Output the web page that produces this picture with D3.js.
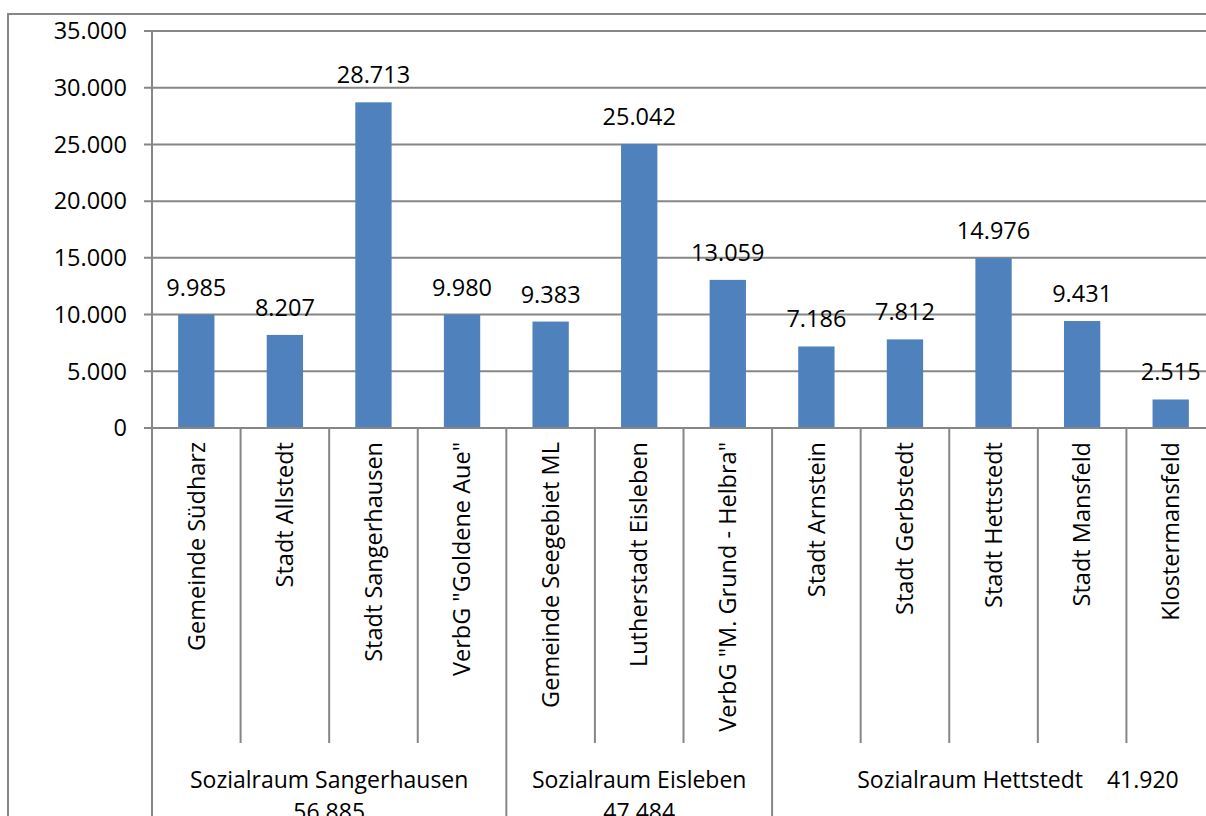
<!DOCTYPE html>
<html><head><meta charset="utf-8">
<script src="https://cdn.jsdelivr.net/npm/d3@7"></script>
<style>body{margin:0;background:#fff;}svg{display:block;}text{font-family:"Open Sans",sans-serif;fill:#000;}</style>
</head><body>
<svg id="c" width="1206" height="816"></svg>
<script>
const categories = ["Gemeinde Südharz","Stadt Allstedt","Stadt Sangerhausen","VerbG \"Goldene Aue\"","Gemeinde Seegebiet ML","Lutherstadt Eisleben","VerbG \"M. Grund - Helbra\"","Stadt Arnstein","Stadt Gerbstedt","Stadt Hettstedt","Stadt Mansfeld","Klostermansfeld"];
const values = [9985,8207,28713,9980,9383,25042,13059,7186,7812,14976,9431,2515];
const valueLabels = ["9.985","8.207","28.713","9.980","9.383","25.042","13.059","7.186","7.812","14.976","9.431","2.515"];
const groups = ["Sozialraum Sangerhausen","Sozialraum Eisleben","Sozialraum Hettstedt"];
const groupTotals = ["56.885","47.484","41.920"];
const groupSizes = [4,3,5];
const yTicks = [0,5000,10000,15000,20000,25000,30000,35000];
const yTickLabels = ["0","5.000","10.000","15.000","20.000","25.000","30.000","35.000"];

const svg = d3.select("#c");
const L = 152, R = 1215, T = 31, B = 428;
const grid = "#868686";
const x = d3.scaleBand().domain(categories).range([L, R]).paddingInner(0.59).paddingOuter(0.295);
const xb = d3.scaleBand().domain(categories).range([L, R]).padding(0);
const y = d3.scaleLinear().domain([0,35000]).range([B, T]);

// outer border
svg.append("rect").attr("x",8).attr("y",14).attr("width",1300).attr("height",900)
  .attr("fill","none").attr("stroke",grid).attr("stroke-width",2);

// gridlines
svg.append("g").selectAll("line").data(yTicks).join("line")
  .attr("x1",L-8).attr("x2",R).attr("y1",d=>y(d)).attr("y2",d=>y(d))
  .attr("stroke",grid).attr("stroke-width",2);
// y labels
svg.append("g").selectAll("text").data(yTicks).join("text")
  .attr("x",127).attr("y",d=>y(d)).attr("dy","0.35em").attr("text-anchor","end")
  .attr("font-size",23.5).text((d,i)=>yTickLabels[i]);
// y axis
svg.append("line").attr("x1",L).attr("x2",L).attr("y1",T).attr("y2",B).attr("stroke",grid).attr("stroke-width",2);

// bars
svg.append("g").selectAll("rect").data(values).join("rect")
  .attr("x",(d,i)=>x(categories[i])).attr("width",x.bandwidth())
  .attr("y",d=>y(d)).attr("height",d=>B-y(d)).attr("fill","#4f81bd");
// value labels
svg.append("g").selectAll("text").data(values).join("text")
  .attr("x",(d,i)=>x(categories[i])+x.bandwidth()/2).attr("y",d=>y(d)-19)
  .attr("text-anchor","middle").attr("font-size",23.5).text((d,i)=>valueLabels[i]);

// category separators
const groupStarts = [];
let acc = 0; groupSizes.forEach(s=>{groupStarts.push(acc); acc+=s;}); groupStarts.push(acc);
svg.append("g").selectAll("line").data(d3.range(1,categories.length)).join("line")
  .attr("x1",i=>xb(categories[i])).attr("x2",i=>xb(categories[i]))
  .attr("y1",B).attr("y2",i=>groupStarts.includes(i)?830:743)
  .attr("stroke",grid).attr("stroke-width",2);
svg.append("line").attr("x1",L).attr("x2",L).attr("y1",B).attr("y2",830).attr("stroke",grid).attr("stroke-width",2);
// zero line
svg.append("line").attr("x1",L-8).attr("x2",R).attr("y1",B).attr("y2",B).attr("stroke",grid).attr("stroke-width",2);

// category labels
svg.append("g").selectAll("text").data(categories).join("text")
  .attr("transform",d=>`translate(${xb(d)+xb.bandwidth()/2},442) rotate(-90)`)
  .attr("dy","0.35em").attr("text-anchor","end").attr("font-size",23.5).text(d=>d);

// group labels
const gl = svg.append("g");
groups.forEach((g,i)=>{
  const x0 = xb(categories[groupStarts[i]]);
  const x1 = groupStarts[i+1] < categories.length ? xb(categories[groupStarts[i+1]]) : R;
  const cx = (x0+x1)/2;
  if (i < 2) {
    gl.append("text").attr("x",cx).attr("y",788).attr("text-anchor","middle").attr("font-size",23).text(g);
    gl.append("text").attr("x",cx).attr("y",820).attr("text-anchor","middle").attr("font-size",23).text(groupTotals[i]);
  } else {
    gl.append("text").attr("x",1018).attr("y",788).attr("text-anchor","middle").attr("font-size",23).attr("xml:space","preserve").text(g + "    " + groupTotals[i]);
  }
});
</script>
</body></html>
